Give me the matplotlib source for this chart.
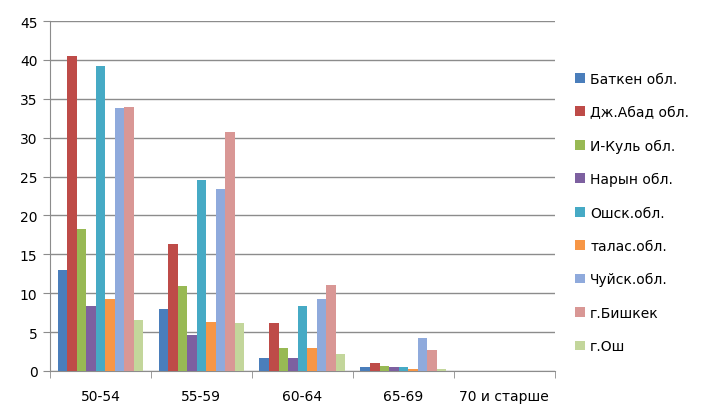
import matplotlib.pyplot as plt
import numpy as np

plt.rcParams['font.family'] = ['DejaVu Sans']

age_groups = ["50-54", "55-59", "60-64", "65-69", "70 и старше"]
regions = ["Баткен обл.", "Дж.Абад обл.", "И-Куль обл.", "Нарын обл.", "Ошск.обл.",
           "талас.обл.", "Чуйск.обл.", "г.Бишкек", "г.Ош"]

batken = [13.0, 8.0, 1.7, 0.5, 0]
djalal = [40.5, 16.3, 6.2, 1.0, 0]
issyk = [18.3, 10.9, 3.0, 0.7, 0]
naryn = [8.3, 4.6, 1.7, 0.5, 0]
osh_obl = [39.2, 24.6, 8.3, 0.5, 0]
talas = [9.2, 6.3, 3.0, 0.3, 0]
chui = [33.8, 23.4, 9.3, 4.2, 0]
bishkek = [34.0, 30.7, 11.0, 2.7, 0]
osh = [6.5, 6.2, 2.2, 0.2, 0]

series = [batken, djalal, issyk, naryn, osh_obl, talas, chui, bishkek, osh]
colors = ["#4A7EBB", "#BE4B48", "#98B954", "#7D60A0", "#46AAC5",
          "#F79646", "#8FAADC", "#D99795", "#C3D69B"]

fig = plt.figure(figsize=(7.08, 4.10), dpi=100)
ax = fig.add_axes([0.0706, 0.0927, 0.713, 0.8536])

x = np.arange(len(age_groups))
n = len(series)
width = 0.85 / n
for i, (vals, col) in enumerate(zip(series, colors)):
    ax.bar(x - 0.425 + width * (i + 0.5), vals, width, color=col,
           label=regions[i], zorder=3)

ax.set_xlim(-0.5, len(age_groups) - 0.5)
ax.set_ylim(0, 45)
ax.set_yticks(range(0, 46, 5))
ax.yaxis.grid(True, color="#8c8c8c", linewidth=1.0, zorder=0)
ax.set_xticks(x)
ax.set_xticklabels(age_groups)
ax.set_xticks(np.arange(-0.5, len(age_groups), 1), minor=True)
ax.tick_params(axis='x', which='major', length=0, pad=13, labelsize=10)
ax.tick_params(axis='x', which='minor', length=5, color="#8c8c8c", direction='out')
ax.tick_params(axis='y', length=5, color="#8c8c8c", labelsize=10, pad=4)

for s in ["top", "right"]:
    ax.spines[s].set_visible(False)
for s in ["left", "bottom"]:
    ax.spines[s].set_color("#8c8c8c")

ax.legend(loc="center left", bbox_to_anchor=(1.015, 0.453), frameon=False,
          fontsize=10, handlelength=0.7, handleheight=0.7, handletextpad=0.4,
          labelspacing=1.4)

fig.savefig("out.png", dpi=100)
